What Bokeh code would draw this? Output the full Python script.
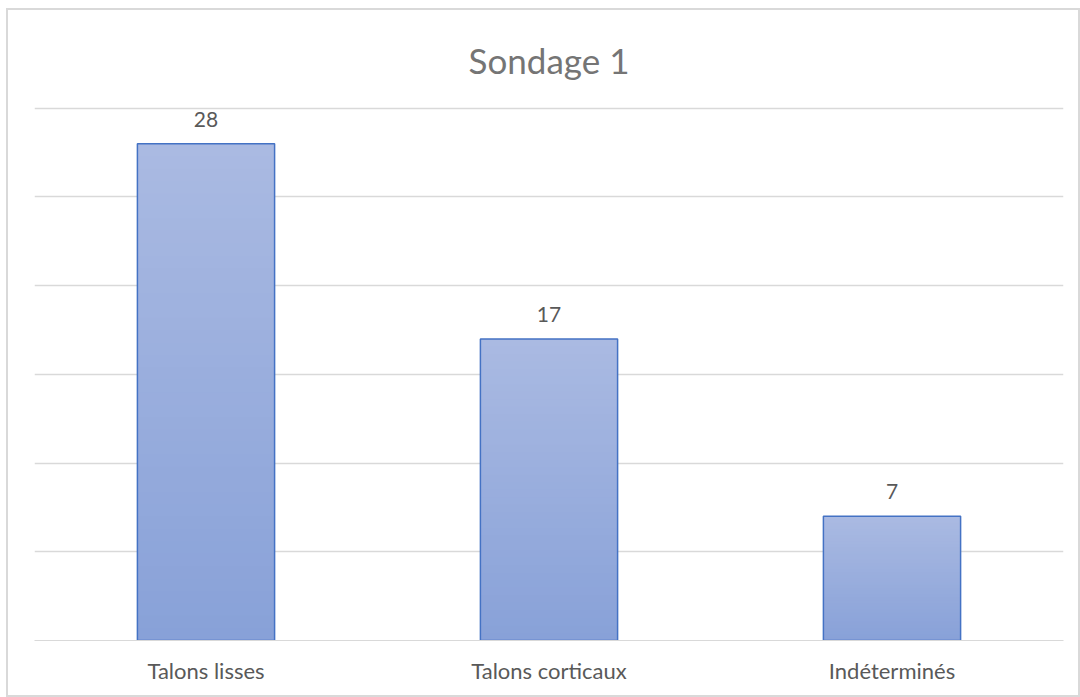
from bokeh.plotting import figure
from bokeh.models import ColumnDataSource, LabelSet, Range1d, FixedTicker
from bokeh.embed import file_html
from bokeh.resources import INLINE
from bokeh.core.properties import value

categories = ["Talons lisses", "Talons corticaux", "Indéterminés"]
counts = [28, 17, 7]
title_text = "Sondage 1"

FONT = "Lato"
TXT = "#595959"

p = figure(x_range=categories, y_range=Range1d(0, 30.1), width=1074, height=689,
           output_backend="svg", toolbar_location=None,
           min_border_left=26, min_border_right=19, min_border_top=96, min_border_bottom=59)
p.styles = {"border": "2px solid #d9d9d9", "box-sizing": "border-box",
            "margin-left": "6px", "margin-top": "8px"}

p.title.text = title_text
p.title.align = "center"
p.title.vertical_align = "middle"
p.title.text_font = FONT
p.title.text_font_size = "35px"
p.title.text_font_style = "normal"
p.title.text_color = "#757575"
p.title.offset = 0
p.title.standoff = 49

# gradient bars built from slices of each value
N = 40
top_c = (0xAA, 0xBA, 0xE2)
bot_c = (0x88, 0xA1, 0xD8)
for i in range(N):
    t = (i + 0.5) / N
    col = tuple(int(round(bot_c[k] + (top_c[k] - bot_c[k]) * t)) for k in range(3))
    hexc = "#%02x%02x%02x" % col
    bottoms = [v * i / N for v in counts]
    tops = [v * min(i + 1.6, N) / N for v in counts]
    p.vbar(x=categories, bottom=bottoms, top=tops, width=0.4,
           fill_color=hexc, line_color=None)

src = ColumnDataSource(dict(x=categories, y=counts, lab=[str(v) for v in counts]))
p.vbar(x="x", top="y", width=0.4, source=src, fill_color=None,
       line_color="#4472C4", line_width=1.5)

labels = LabelSet(x="x", y="y", text="lab", source=src, text_align="center",
                  text_baseline="alphabetic", y_offset=17, text_font=value(FONT),
                  text_font_size="21px", text_color=TXT)
p.add_layout(labels)

p.yaxis.visible = False
p.ygrid.ticker = FixedTicker(ticks=[0, 5, 10, 15, 20, 25, 30])
p.ygrid.grid_line_color = "#d9d9d9"
p.ygrid.grid_line_width = 1.3
p.xgrid.grid_line_color = None
p.outline_line_color = None

p.xaxis.axis_line_color = "#d9d9d9"
p.xaxis.major_tick_line_color = None
p.xaxis.minor_tick_line_color = None
p.xaxis.major_label_text_font = FONT
p.xaxis.major_label_text_font_size = "22px"
p.xaxis.major_label_text_color = TXT
p.xaxis.major_label_standoff = 10

open("out.html", "w").write(file_html(p, INLINE))
